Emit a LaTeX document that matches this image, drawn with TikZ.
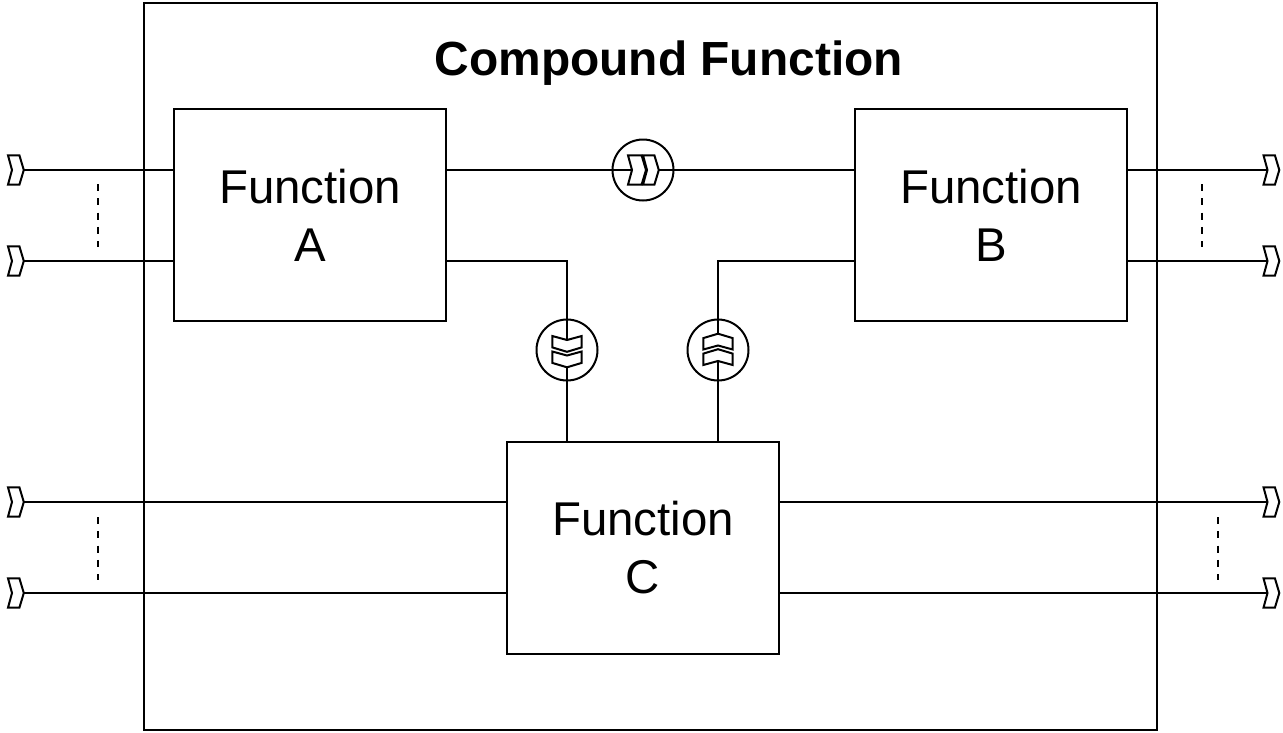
\documentclass[tikz,border=0pt]{standalone}
\usepackage{fontspec}
\setmainfont{Liberation Sans}
\tikzset{
  x=1pt,y=-1pt,
  every path/.style={line width=2pt,line join=miter},
  fbox/.style={draw,outer sep=0pt,minimum width=272pt,minimum height=212pt,inner sep=0pt,align=center,
    font=\fontsize{47.4}{58}\selectfont,anchor=north west,execute at begin node={\rule{0pt}{37pt}}},
  ring/.style={draw,circle,outer sep=0pt,minimum size=61pt,inner sep=0pt},
  ellipsis/.style={draw,line width=2pt,dash pattern=on 7pt off 7.3pt},
  pics/chev/.default=11.8,
  pics/chev/.style={code={
    \draw (-4,-14.7) -- (#1-4.4,-14.7) -- (#1,0) -- (#1-4.4,14.7) -- (-4,14.7) -- (0,0) -- cycle;
    \coordinate (-notch) at (0,0);
    \coordinate (-tip) at (#1,0);
  }}
}
\begin{document}
\begin{tikzpicture}
\useasboundingbox (0,0) rectangle (1283,732);
\node[draw,outer sep=0pt,minimum width=1013pt,minimum height=727pt,inner sep=0pt,anchor=north west] (outer) at (144,3) {};
\node[font=\bfseries\fontsize{47.9}{58}\selectfont] (title) at (668.8,63) {Compound Function};
\node[fbox] (fa) at (174,109) {Function\\A};
\node[fbox] (fb) at (855,109) {Function\\B};
\node[fbox] (fc) at (507,442) {Function\\C};
\node[ring] (r1) at (643,170) {};
\node[ring] (r2) at (567,350) {};
\node[ring] (r3) at (718,350) {};
% ports
\pic (pl1) at (12,170) {chev};
\pic (pl2) at (12,261) {chev};
\pic (pl3) at (12,502) {chev};
\pic (pl4) at (12,593) {chev};
\pic (pr1) at (1267.5,170) {chev};
\pic (pr2) at (1267.5,261) {chev};
\pic (pr3) at (1267.5,502) {chev};
\pic (pr4) at (1267.5,593) {chev};
% ring chevrons
\pic (a1) at (632,170) {chev=14};
\pic (a2) at (647,170) {chev};
\pic[rotate=-90] (b1) at (567,340) {chev};
\pic[rotate=-90] (b2) at (567,355.5) {chev};
\pic[rotate=90] (c1) at (718,345.5) {chev};
\pic[rotate=90] (c2) at (718,361) {chev};
% connectors
\draw (pl1-tip) -- (pl1-tip -| fa.west);
\draw (pl2-tip) -- (pl2-tip -| fa.west);
\draw (pl3-tip) -- (pl3-tip -| fc.west);
\draw (pl4-tip) -- (pl4-tip -| fc.west);
\draw (pr1-notch -| fb.east) -- (pr1-notch);
\draw (pr2-notch -| fb.east) -- (pr2-notch);
\draw (pr3-notch -| fc.east) -- (pr3-notch);
\draw (pr4-notch -| fc.east) -- (pr4-notch);
\draw (a1-notch -| fa.east) -- (a1-notch);
\draw (a2-tip) -- (a2-tip -| fb.west);
\draw (pl2-tip -| fa.east) -| (b1-notch);
\draw (b2-tip) -- (b2-tip |- fc.north);
\draw (pl2-tip -| fb.west) -| (c1-tip);
\draw (c2-notch) -- (c2-notch |- fc.north);
% ellipses
\coordinate (d1a) at (98,184); \coordinate (d1b) at (98,247);
\coordinate (d2a) at (1202,184); \coordinate (d2b) at (1202,247);
\coordinate (d3a) at (98,517); \coordinate (d3b) at (98,580);
\coordinate (d4a) at (1218,517); \coordinate (d4b) at (1218,580);
\draw[ellipsis] (d1a) -- (d1b);
\draw[ellipsis] (d2a) -- (d2b);
\draw[ellipsis] (d3a) -- (d3b);
\draw[ellipsis] (d4a) -- (d4b);
\end{tikzpicture}
\end{document}
